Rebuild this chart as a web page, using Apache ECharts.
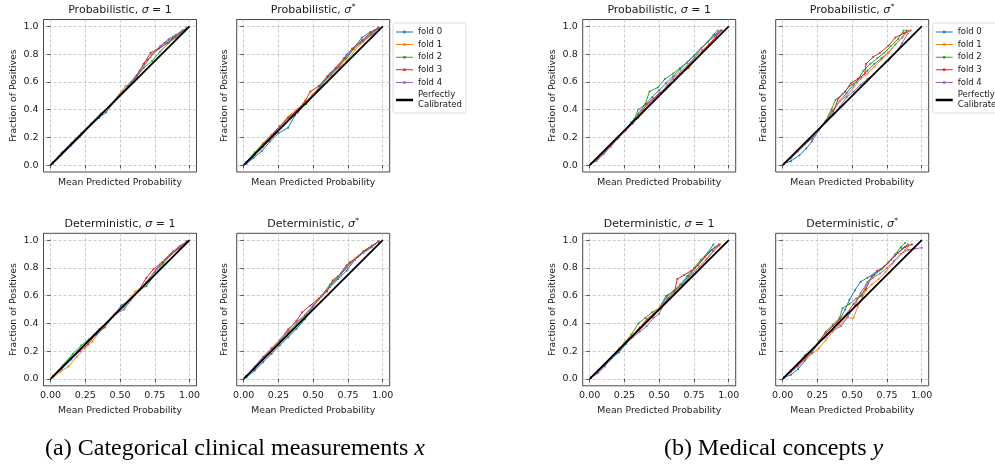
<!DOCTYPE html>
<html>
<head>
<meta charset="utf-8">
<script src="https://cdn.jsdelivr.net/npm/echarts@6/dist/echarts.min.js"></script>
<style>
html,body{margin:0;padding:0;background:#fff;overflow:hidden;width:995px;height:465px;}
#c{width:1012px;height:465px;}
</style>
</head>
<body>
<div id="c"></div>
<script>
// ---------------- data ----------------
const FOLD_NAMES = ['fold 0', 'fold 1', 'fold 2', 'fold 3', 'fold 4'];
const PERFECT_NAME = 'Perfectly Calibrated';
const FOLD_COLORS = ['#1f77b4', '#ff7f0e', '#2ca02c', '#d62728', '#9467bd'];
const X_TICKS = [0, 0.25, 0.5, 0.75, 1];
const Y_TICKS = [0, 0.2, 0.4, 0.6, 0.8, 1];
const PERFECT = [[0, 0], [1, 1]];
const X_LABEL = 'Mean Predicted Probability';
const Y_LABEL = 'Fraction of Positives';
const CAPTION_A = '(a) Categorical clinical measurements ';
const CAPTION_A_VAR = 'x';
const CAPTION_B = '(b) Medical concepts ';
const CAPTION_B_VAR = 'y';

// (a) categorical clinical measurements, probabilistic, sigma = 1
const catProbSigma1 = [
  [[0.02,0.02],[0.08,0.08],[0.15,0.15],[0.22,0.22],[0.29,0.29],[0.35,0.34],[0.4,0.38],[0.46,0.46],[0.52,0.53],[0.58,0.6],[0.64,0.68],[0.7,0.76],[0.76,0.83],[0.82,0.88],[0.88,0.92],[0.94,0.96],[0.98,0.99]],
  [[0.02,0.02],[0.09,0.09],[0.16,0.16],[0.23,0.23],[0.3,0.3],[0.36,0.36],[0.42,0.42],[0.48,0.49],[0.54,0.57],[0.6,0.61],[0.66,0.69],[0.72,0.78],[0.78,0.84],[0.84,0.88],[0.9,0.92],[0.95,0.96],[0.98,0.99]],
  [[0.02,0.02],[0.08,0.09],[0.15,0.16],[0.22,0.23],[0.29,0.3],[0.36,0.37],[0.43,0.43],[0.49,0.5],[0.55,0.56],[0.61,0.63],[0.67,0.7],[0.73,0.75],[0.79,0.82],[0.85,0.88],[0.9,0.92],[0.95,0.96],[0.98,0.99]],
  [[0.02,0.02],[0.09,0.09],[0.16,0.16],[0.23,0.23],[0.3,0.3],[0.37,0.37],[0.44,0.44],[0.5,0.51],[0.56,0.57],[0.62,0.64],[0.67,0.73],[0.72,0.81],[0.78,0.84],[0.84,0.88],[0.9,0.93],[0.95,0.97],[0.98,0.99]],
  [[0.02,0.01],[0.08,0.07],[0.15,0.14],[0.21,0.2],[0.28,0.28],[0.35,0.35],[0.42,0.42],[0.48,0.49],[0.55,0.56],[0.61,0.63],[0.67,0.72],[0.73,0.8],[0.79,0.86],[0.85,0.91],[0.9,0.94],[0.95,0.97],[0.98,0.99]]
];
// (a) probabilistic, sigma*
const catProbSigmaStar = [
  [[0.02,0.01],[0.07,0.05],[0.13,0.1],[0.19,0.17],[0.25,0.23],[0.32,0.27],[0.37,0.36],[0.43,0.44],[0.49,0.5],[0.55,0.57],[0.61,0.64],[0.67,0.7],[0.73,0.77],[0.79,0.84],[0.85,0.92],[0.91,0.96],[0.97,0.99]],
  [[0.02,0.02],[0.08,0.09],[0.14,0.16],[0.2,0.22],[0.26,0.28],[0.32,0.35],[0.38,0.4],[0.44,0.45],[0.5,0.51],[0.56,0.58],[0.62,0.64],[0.68,0.7],[0.74,0.75],[0.8,0.83],[0.86,0.89],[0.92,0.95],[0.97,0.99]],
  [[0.02,0.02],[0.08,0.09],[0.14,0.15],[0.2,0.21],[0.26,0.28],[0.33,0.35],[0.39,0.4],[0.45,0.44],[0.5,0.5],[0.56,0.58],[0.62,0.66],[0.68,0.71],[0.74,0.77],[0.8,0.85],[0.86,0.9],[0.92,0.95],[0.97,0.99]],
  [[0.02,0.02],[0.08,0.08],[0.14,0.15],[0.2,0.21],[0.26,0.28],[0.32,0.34],[0.38,0.39],[0.44,0.46],[0.48,0.53],[0.54,0.57],[0.6,0.64],[0.66,0.7],[0.72,0.77],[0.78,0.84],[0.85,0.9],[0.91,0.95],[0.97,0.99]],
  [[0.02,0.01],[0.08,0.07],[0.14,0.13],[0.2,0.2],[0.26,0.27],[0.33,0.34],[0.39,0.38],[0.45,0.45],[0.51,0.51],[0.57,0.59],[0.63,0.65],[0.69,0.71],[0.74,0.8],[0.8,0.85],[0.86,0.89],[0.92,0.94],[0.97,0.98]]
];
// (a) deterministic, sigma = 1
const catDetSigma1 = [
  [[0.02,0.02],[0.08,0.07],[0.15,0.14],[0.21,0.2],[0.27,0.27],[0.33,0.32],[0.39,0.37],[0.45,0.45],[0.51,0.53],[0.57,0.57],[0.63,0.63],[0.69,0.7],[0.75,0.77],[0.81,0.84],[0.87,0.9],[0.93,0.95],[0.98,0.99]],
  [[0.02,0.01],[0.07,0.05],[0.13,0.09],[0.19,0.16],[0.25,0.22],[0.3,0.27],[0.37,0.36],[0.44,0.44],[0.5,0.5],[0.56,0.57],[0.61,0.63],[0.67,0.67],[0.73,0.75],[0.79,0.83],[0.85,0.89],[0.92,0.94],[0.98,0.99]],
  [[0.02,0.02],[0.09,0.1],[0.16,0.18],[0.22,0.24],[0.28,0.29],[0.35,0.36],[0.41,0.41],[0.47,0.47],[0.53,0.52],[0.59,0.59],[0.64,0.64],[0.69,0.67],[0.75,0.75],[0.81,0.83],[0.87,0.9],[0.93,0.95],[0.98,0.99]],
  [[0.02,0.02],[0.08,0.08],[0.15,0.15],[0.21,0.2],[0.27,0.25],[0.33,0.33],[0.4,0.4],[0.46,0.47],[0.52,0.53],[0.58,0.58],[0.63,0.63],[0.69,0.73],[0.74,0.79],[0.8,0.84],[0.86,0.89],[0.92,0.94],[0.98,0.99]],
  [[0.02,0.02],[0.09,0.09],[0.15,0.15],[0.22,0.21],[0.28,0.28],[0.34,0.34],[0.41,0.41],[0.47,0.47],[0.53,0.5],[0.58,0.57],[0.64,0.64],[0.7,0.71],[0.76,0.79],[0.82,0.86],[0.88,0.92],[0.93,0.96],[0.98,0.99]]
];
// (a) deterministic, sigma*
const catDetSigmaStar = [
  [[0.02,0.01],[0.08,0.06],[0.14,0.12],[0.2,0.18],[0.26,0.24],[0.32,0.3],[0.38,0.36],[0.44,0.43],[0.5,0.52],[0.56,0.6],[0.62,0.66],[0.68,0.72],[0.74,0.78],[0.8,0.86],[0.86,0.91],[0.92,0.95],[0.97,0.99]],
  [[0.02,0.02],[0.08,0.08],[0.14,0.15],[0.2,0.21],[0.26,0.27],[0.32,0.34],[0.38,0.4],[0.44,0.46],[0.5,0.53],[0.56,0.59],[0.62,0.67],[0.68,0.74],[0.74,0.8],[0.8,0.87],[0.86,0.92],[0.92,0.96],[0.97,0.99]],
  [[0.02,0.02],[0.08,0.07],[0.14,0.14],[0.2,0.2],[0.26,0.27],[0.32,0.33],[0.38,0.39],[0.44,0.45],[0.5,0.53],[0.56,0.6],[0.62,0.68],[0.68,0.74],[0.74,0.82],[0.8,0.86],[0.86,0.92],[0.92,0.96],[0.97,0.99]],
  [[0.02,0.02],[0.08,0.09],[0.14,0.16],[0.2,0.22],[0.26,0.28],[0.32,0.35],[0.38,0.42],[0.42,0.48],[0.48,0.53],[0.54,0.58],[0.6,0.63],[0.64,0.71],[0.7,0.76],[0.76,0.84],[0.82,0.88],[0.88,0.93],[0.97,0.99]],
  [[0.02,0.02],[0.08,0.09],[0.14,0.15],[0.2,0.22],[0.26,0.28],[0.32,0.36],[0.38,0.41],[0.44,0.46],[0.5,0.53],[0.56,0.6],[0.62,0.67],[0.68,0.73],[0.74,0.8],[0.8,0.86],[0.86,0.91],[0.92,0.95],[0.97,0.99]]
];
// (b) medical concepts, probabilistic, sigma = 1
const conProbSigma1 = [
  [[0.01,0.01],[0.05,0.04],[0.1,0.08],[0.15,0.14],[0.2,0.19],[0.25,0.25],[0.3,0.31],[0.35,0.37],[0.4,0.44],[0.45,0.49],[0.5,0.54],[0.55,0.59],[0.6,0.64],[0.65,0.69],[0.7,0.74],[0.75,0.79],[0.8,0.84],[0.85,0.89],[0.9,0.94],[0.94,0.97]],
  [[0.01,0.01],[0.06,0.05],[0.11,0.1],[0.16,0.15],[0.21,0.2],[0.26,0.26],[0.31,0.31],[0.36,0.38],[0.41,0.43],[0.46,0.48],[0.51,0.52],[0.56,0.58],[0.61,0.64],[0.66,0.68],[0.71,0.73],[0.76,0.78],[0.81,0.83],[0.86,0.87],[0.91,0.93],[0.95,0.97]],
  [[0.01,0.01],[0.06,0.05],[0.11,0.1],[0.16,0.16],[0.21,0.21],[0.27,0.27],[0.32,0.33],[0.35,0.4],[0.4,0.44],[0.43,0.53],[0.49,0.56],[0.54,0.62],[0.6,0.66],[0.65,0.7],[0.7,0.74],[0.75,0.79],[0.8,0.84],[0.85,0.89],[0.89,0.94],[0.92,0.97]],
  [[0.01,0.01],[0.06,0.05],[0.11,0.1],[0.16,0.15],[0.21,0.2],[0.26,0.25],[0.31,0.3],[0.36,0.36],[0.41,0.44],[0.46,0.48],[0.51,0.52],[0.56,0.57],[0.61,0.61],[0.66,0.66],[0.71,0.7],[0.76,0.76],[0.81,0.82],[0.86,0.87],[0.91,0.93],[0.95,0.97]],
  [[0.01,0.01],[0.05,0.03],[0.1,0.08],[0.15,0.13],[0.2,0.19],[0.25,0.24],[0.3,0.3],[0.35,0.34],[0.4,0.4],[0.45,0.47],[0.5,0.52],[0.55,0.56],[0.6,0.62],[0.65,0.66],[0.7,0.71],[0.75,0.77],[0.8,0.84],[0.85,0.89],[0.9,0.93],[0.93,0.96]]
];
// (b) probabilistic, sigma*
const conProbSigmaStar = [
  [[0.01,0.01],[0.06,0.03],[0.12,0.07],[0.17,0.12],[0.21,0.17],[0.26,0.25],[0.31,0.31],[0.36,0.39],[0.41,0.46],[0.46,0.52],[0.51,0.58],[0.56,0.63],[0.61,0.68],[0.66,0.73],[0.71,0.77],[0.76,0.81],[0.81,0.87],[0.86,0.92],[0.89,0.97]],
  [[0.01,0.01],[0.06,0.05],[0.11,0.1],[0.16,0.15],[0.21,0.2],[0.26,0.26],[0.31,0.32],[0.36,0.4],[0.41,0.46],[0.46,0.5],[0.51,0.56],[0.56,0.62],[0.61,0.66],[0.66,0.71],[0.71,0.76],[0.76,0.81],[0.81,0.87],[0.86,0.92],[0.9,0.97]],
  [[0.01,0.01],[0.06,0.05],[0.11,0.1],[0.16,0.15],[0.21,0.2],[0.26,0.26],[0.31,0.32],[0.35,0.4],[0.38,0.47],[0.43,0.51],[0.48,0.57],[0.53,0.6],[0.58,0.68],[0.63,0.73],[0.68,0.77],[0.73,0.81],[0.78,0.86],[0.83,0.91],[0.87,0.97]],
  [[0.01,0.01],[0.06,0.05],[0.11,0.1],[0.16,0.15],[0.21,0.19],[0.26,0.26],[0.31,0.32],[0.36,0.37],[0.4,0.48],[0.45,0.53],[0.49,0.59],[0.54,0.62],[0.59,0.66],[0.6,0.73],[0.65,0.78],[0.7,0.81],[0.76,0.86],[0.81,0.92],[0.87,0.95],[0.92,0.97]],
  [[0.01,0.01],[0.06,0.05],[0.11,0.1],[0.16,0.15],[0.21,0.2],[0.26,0.26],[0.31,0.31],[0.36,0.36],[0.41,0.42],[0.46,0.49],[0.51,0.53],[0.56,0.58],[0.61,0.62],[0.66,0.66],[0.71,0.71],[0.76,0.75],[0.81,0.81],[0.86,0.88],[0.9,0.95]]
];
// (b) deterministic, sigma = 1
const conDetSigma1 = [
  [[0.01,0.01],[0.06,0.05],[0.11,0.1],[0.16,0.15],[0.21,0.19],[0.26,0.25],[0.31,0.31],[0.36,0.37],[0.41,0.42],[0.46,0.46],[0.51,0.52],[0.56,0.6],[0.61,0.64],[0.66,0.68],[0.71,0.74],[0.76,0.8],[0.81,0.86],[0.85,0.91],[0.89,0.97]],
  [[0.01,0.01],[0.06,0.06],[0.11,0.11],[0.16,0.16],[0.21,0.22],[0.26,0.27],[0.31,0.32],[0.36,0.37],[0.41,0.42],[0.46,0.47],[0.51,0.52],[0.56,0.57],[0.61,0.62],[0.66,0.67],[0.71,0.73],[0.76,0.78],[0.81,0.83],[0.86,0.89],[0.91,0.95],[0.94,0.97]],
  [[0.01,0.01],[0.06,0.06],[0.11,0.1],[0.15,0.14],[0.2,0.2],[0.25,0.26],[0.3,0.32],[0.35,0.4],[0.4,0.44],[0.45,0.48],[0.5,0.51],[0.55,0.6],[0.6,0.63],[0.65,0.68],[0.7,0.74],[0.75,0.8],[0.8,0.86],[0.85,0.91],[0.9,0.95],[0.93,0.97]],
  [[0.01,0.01],[0.06,0.05],[0.11,0.1],[0.16,0.15],[0.21,0.21],[0.26,0.27],[0.31,0.31],[0.36,0.37],[0.41,0.43],[0.46,0.47],[0.51,0.51],[0.56,0.58],[0.61,0.63],[0.63,0.72],[0.68,0.75],[0.73,0.78],[0.78,0.82],[0.83,0.88],[0.88,0.93],[0.93,0.97]],
  [[0.01,0.01],[0.06,0.04],[0.11,0.09],[0.16,0.15],[0.21,0.2],[0.26,0.26],[0.31,0.3],[0.36,0.34],[0.41,0.38],[0.46,0.44],[0.5,0.47],[0.54,0.55],[0.59,0.61],[0.64,0.66],[0.69,0.7],[0.74,0.76],[0.79,0.81],[0.84,0.86],[0.89,0.92],[0.93,0.96]]
];
// (b) deterministic, sigma*
const conDetSigmaStar = [
  [[0.01,0.01],[0.06,0.03],[0.11,0.07],[0.16,0.13],[0.21,0.19],[0.26,0.26],[0.31,0.31],[0.36,0.36],[0.41,0.43],[0.45,0.5],[0.48,0.57],[0.52,0.64],[0.56,0.7],[0.61,0.73],[0.66,0.76],[0.71,0.79],[0.76,0.84],[0.81,0.89],[0.86,0.94],[0.9,0.97]],
  [[0.01,0.01],[0.06,0.05],[0.11,0.1],[0.16,0.14],[0.21,0.18],[0.26,0.22],[0.31,0.28],[0.36,0.34],[0.41,0.39],[0.46,0.44],[0.51,0.44],[0.54,0.52],[0.57,0.58],[0.6,0.64],[0.64,0.68],[0.69,0.72],[0.74,0.77],[0.79,0.83],[0.84,0.89],[0.88,0.93],[0.92,0.97]],
  [[0.01,0.01],[0.06,0.06],[0.11,0.11],[0.16,0.17],[0.21,0.21],[0.26,0.27],[0.31,0.34],[0.36,0.39],[0.41,0.44],[0.43,0.51],[0.48,0.54],[0.53,0.58],[0.57,0.6],[0.61,0.7],[0.66,0.75],[0.71,0.79],[0.76,0.84],[0.81,0.9],[0.85,0.95],[0.88,0.98]],
  [[0.01,0.01],[0.06,0.06],[0.11,0.1],[0.16,0.15],[0.21,0.2],[0.26,0.27],[0.31,0.33],[0.36,0.38],[0.41,0.43],[0.46,0.47],[0.51,0.54],[0.56,0.6],[0.6,0.65],[0.64,0.74],[0.68,0.78],[0.73,0.81],[0.78,0.86],[0.83,0.91],[0.88,0.95],[0.93,0.97]],
  [[0.01,0.01],[0.06,0.05],[0.11,0.09],[0.16,0.14],[0.21,0.2],[0.26,0.26],[0.31,0.3],[0.36,0.35],[0.42,0.38],[0.47,0.45],[0.52,0.53],[0.56,0.62],[0.6,0.68],[0.65,0.73],[0.7,0.76],[0.75,0.8],[0.8,0.85],[0.85,0.9],[0.9,0.93],[0.95,0.94],[1.0,0.945]]
];

// ---------------- layout ----------------
const COL_LEFT = [43.5, 236.7, 582.7, 775.7];
const ROW_TOP = [19.5, 233.3];
const GW = 153, GH = 152.5;
const SANS = 'DejaVu Sans';

const panels = [
  { data: catProbSigma1,   kind: 'Probabilistic', star: false, row: 0, col: 0 },
  { data: catProbSigmaStar,kind: 'Probabilistic', star: true,  row: 0, col: 1 },
  { data: catDetSigma1,    kind: 'Deterministic', star: false, row: 1, col: 0 },
  { data: catDetSigmaStar, kind: 'Deterministic', star: true,  row: 1, col: 1 },
  { data: conProbSigma1,   kind: 'Probabilistic', star: false, row: 0, col: 2 },
  { data: conProbSigmaStar,kind: 'Probabilistic', star: true,  row: 0, col: 3 },
  { data: conDetSigma1,    kind: 'Deterministic', star: false, row: 1, col: 2 },
  { data: conDetSigmaStar, kind: 'Deterministic', star: true,  row: 1, col: 3 }
];

const grid = [], xAxis = [], yAxis = [], series = [], graphic = [];
const gridLine = { color: '#bdbdbd', width: 0.8, type: [3, 2] };
const txt = '#1a1a1a';
const TICK_FS = 9.5, NAME_FS = 9.3, TITLE_FS = 11;

panels.forEach((p, i) => {
  const left = COL_LEFT[p.col], top = ROW_TOP[p.row];
  const showY = (p.col % 2 === 0);
  const showX = (p.row === 1);
  grid.push({ left: left, top: top, width: GW, height: GH, show: true,
    borderColor: '#333', borderWidth: 0.9, backgroundColor: 'transparent', containLabel: false });
  xAxis.push({
    type: 'value', gridIndex: i, min: -0.05, max: 1.05,
    name: X_LABEL, nameLocation: 'middle', nameGap: showX ? 20 : 6.5,
    nameTextStyle: { fontFamily: SANS, fontSize: NAME_FS, color: txt },
    axisLine: { show: false },
    axisTick: { show: true, customValues: X_TICKS, length: 3.5, lineStyle: { color: '#333', width: 0.8 } },
    axisLabel: { show: showX, customValues: X_TICKS, margin: 5, fontFamily: SANS, fontSize: TICK_FS, color: txt,
      formatter: v => v.toFixed(2) },
    splitLine: { show: true, lineStyle: gridLine }
  });
  yAxis.push({
    type: 'value', gridIndex: i, min: -0.05, max: 1.05,
    name: Y_LABEL, nameLocation: 'middle', nameGap: showY ? 25.5 : 8,
    nameTextStyle: { fontFamily: SANS, fontSize: NAME_FS, color: txt },
    axisLine: { show: false },
    axisTick: { show: true, customValues: Y_TICKS, length: 3.5, lineStyle: { color: '#333', width: 0.8 } },
    axisLabel: { show: showY, customValues: Y_TICKS, margin: 5, fontFamily: SANS, fontSize: TICK_FS, color: txt,
      formatter: v => v.toFixed(1) },
    splitLine: { show: true, lineStyle: gridLine }
  });
  p.data.forEach((foldData, k) => {
    series.push({
      type: 'line', name: FOLD_NAMES[k], xAxisIndex: i, yAxisIndex: i, data: foldData,
      symbol: 'circle', symbolSize: 2, showSymbol: true,
      lineStyle: { width: 1, color: FOLD_COLORS[k] }, itemStyle: { color: FOLD_COLORS[k] },
      emphasis: { disabled: true }, z: 2
    });
  });
  series.push({
    type: 'line', name: PERFECT_NAME, xAxisIndex: i, yAxisIndex: i, data: PERFECT,
    symbol: 'none', lineStyle: { width: 1.8, color: '#000' }, itemStyle: { color: '#000' },
    emphasis: { disabled: true }, z: 3
  });
  // subplot title
  const title = p.star ? p.kind + ', {i|σ}{s|*}' : p.kind + ', {i|σ}{n| = 1}';
  graphic.push({
    type: 'text', x: left + GW / 2, y: top - 9.5,
    style: { text: title, align: 'center', verticalAlign: 'middle', fill: txt,
      fontFamily: SANS, fontSize: TITLE_FS,
      rich: {
        i: { fontFamily: SANS, fontStyle: 'italic', fontSize: TITLE_FS },
        n: { fontFamily: SANS, fontSize: TITLE_FS },
        s: { fontFamily: SANS, fontSize: 7.5, padding: [0, 0, 6, 0.5] }
      } }
  });
});

graphic.push({
  type: 'text', x: 235, y: 449,
  style: { text: CAPTION_A + '{v|' + CAPTION_A_VAR + '}', align: 'center', verticalAlign: 'middle',
    fill: '#000', fontFamily: 'Liberation Serif', fontSize: 24,
    rich: { v: { fontFamily: 'Liberation Serif', fontStyle: 'italic', fontSize: 24 } } }
});
graphic.push({
  type: 'text', x: 773.5, y: 449,
  style: { text: CAPTION_B + '{v|' + CAPTION_B_VAR + '}', align: 'center', verticalAlign: 'middle',
    fill: '#000', fontFamily: 'Liberation Serif', fontSize: 24,
    rich: { v: { fontFamily: 'Liberation Serif', fontStyle: 'italic', fontSize: 24 } } }
});

// legend icons: thin line with a small marker for folds, a thick plain line for the diagonal
const FOLD_ICON = 'path://M0,0.75 L17,0.75 L17,1.75 L0,1.75 Z M7.3,0 L9.7,0 L9.7,2.5 L7.3,2.5 Z';
const PERFECT_ICON = 'path://M0,0 L17,0 L17,2.5 L0,2.5 Z';
const legendData = FOLD_NAMES.map(n => ({ name: n, icon: FOLD_ICON }))
  .concat([{ name: PERFECT_NAME, icon: PERFECT_ICON }]);
function makeLegend(left) {
  return {
    orient: 'vertical', left: left, top: 23, data: legendData,
    itemWidth: 17, itemHeight: 2.5, itemGap: 2.6,
    padding: [4, 4, 3, 3],
    backgroundColor: '#fff', borderColor: '#d6d6d6', borderWidth: 0.8, borderRadius: 2,
    textStyle: { fontFamily: SANS, fontSize: 8.5, color: txt, lineHeight: 10 },
    itemStyle: { borderWidth: 0 },
    formatter: n => n === PERFECT_NAME ? 'Perfectly\nCalibrated' : n,
    selectedMode: false
  };
}

const chart = echarts.init(document.getElementById('c'), null, { renderer: 'canvas' });
chart.setOption({
  animation: false,
  backgroundColor: '#fff',
  grid: grid, xAxis: xAxis, yAxis: yAxis, series: series,
  legend: [makeLegend(393), makeLegend(932.7)],
  graphic: graphic,
  tooltip: { show: false }
});
</script>
</body>
</html>
